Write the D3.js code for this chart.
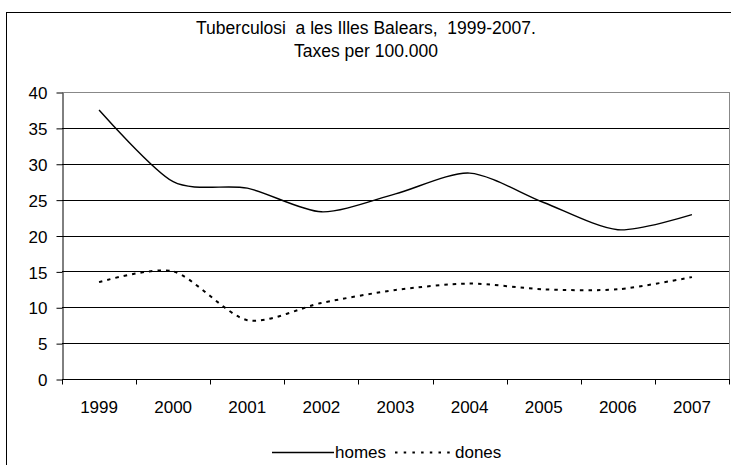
<!DOCTYPE html>
<html><head><meta charset="utf-8">
<script src="https://cdn.jsdelivr.net/npm/d3@7"></script>
<style>
body{margin:0;background:#fff;}
text{font-family:"Liberation Sans",Arial,sans-serif;fill:#000;white-space:pre;}
</style></head>
<body><svg id="c" width="731" height="465"></svg>
<script>
const years = ["1999","2000","2001","2002","2003","2004","2005","2006","2007"];
const homes = [37.5, 27.5, 26.6, 23.3, 25.8, 28.7, 24.6, 20.8, 22.9];
const dones = [13.5, 15.0, 8.2, 10.6, 12.4, 13.3, 12.5, 12.5, 14.2];
const yTicks = [0,5,10,15,20,25,30,35,40];
const titleLines = ["Tuberculosi  a les Illes Balears,  1999-2007.", "Taxes per 100.000"];
const seriesNames = ["homes","dones"];

const svg = d3.select("#c");
const m = {l:62, r:729, t:92, b:379};

// outer frame
svg.append("rect").attr("x",6.5).attr("y",12.5).attr("width",740).attr("height",470)
  .attr("fill","none").attr("stroke","#000").attr("stroke-width",1);

const x = d3.scaleBand().domain(years).range([m.l, m.r]);
const y = d3.scaleLinear().domain([0,40]).range([m.b, m.t]);

// grid
svg.append("g").selectAll("line").data(yTicks.filter(d=>d>0)).join("line")
  .attr("x1",m.l).attr("x2",m.r)
  .attr("y1",d=>Math.round(y(d))+0.5).attr("y2",d=>Math.round(y(d))+0.5)
  .attr("stroke",d=>d===40?"#888":"#000").attr("stroke-width",1);
// right border
svg.append("line").attr("x1",m.r+0.5).attr("x2",m.r+0.5).attr("y1",m.t).attr("y2",m.b)
  .attr("stroke","#888");

// y axis
const yAxis = d3.axisLeft(y).tickValues(yTicks).tickSize(6).tickPadding(9).tickSizeOuter(0);
const gy = svg.append("g").attr("transform",`translate(${m.l+0.5},0.5)`).call(yAxis);
gy.selectAll("text").style("font-size","17px").attr("dy","0.36em");
gy.selectAll("line,path").attr("stroke","#000");

// x axis
const gx = svg.append("g").attr("transform",`translate(0,${Math.round(y(0))+0.5})`);
gx.append("line").attr("x1",m.l).attr("x2",m.r+1).attr("stroke","#000");
const bounds = years.map(d=>x(d)).concat([m.r]);
gx.selectAll("line.t").data(bounds).join("line").attr("class","t")
  .attr("x1",d=>Math.round(d)+0.5).attr("x2",d=>Math.round(d)+0.5).attr("y1",0).attr("y2",5)
  .attr("stroke","#000");
gx.selectAll("text").data(years).join("text")
  .attr("x",d=>x(d)+x.bandwidth()/2).attr("y",33)
  .attr("text-anchor","middle").style("font-size","17px").text(d=>d);

// lines
const line = d3.line().x((d,i)=>x(years[i])+x.bandwidth()/2).y(d=>y(d)).curve(d3.curveCardinal.tension(0.2));
svg.append("path").datum(homes).attr("d",line).attr("fill","none").attr("stroke","#000").attr("stroke-width",1.4);
svg.append("path").datum(dones).attr("d",line).attr("fill","none").attr("stroke","#000").attr("stroke-width",2)
  .attr("stroke-dasharray","3.5,5");

// title
svg.append("g").selectAll("text").data(titleLines).join("text")
  .attr("x",366).attr("y",(d,i)=>34+i*22.5).attr("text-anchor","middle")
  .style("font-size","17.5px").text(d=>d);

// legend
const lg = svg.append("g");
lg.append("line").attr("x1",272).attr("x2",334).attr("y1",452.5).attr("y2",452.5).attr("stroke","#000").attr("stroke-width",1.4);
lg.append("text").attr("x",335).attr("y",458).style("font-size","17px").text(seriesNames[0]);
lg.append("line").attr("x1",395).attr("x2",454).attr("y1",452.5).attr("y2",452.5).attr("stroke","#000").attr("stroke-width",2).attr("stroke-dasharray","2.5,6.2");
lg.append("text").attr("x",455).attr("y",458).style("font-size","17px").text(seriesNames[1]);
</script></body></html>
